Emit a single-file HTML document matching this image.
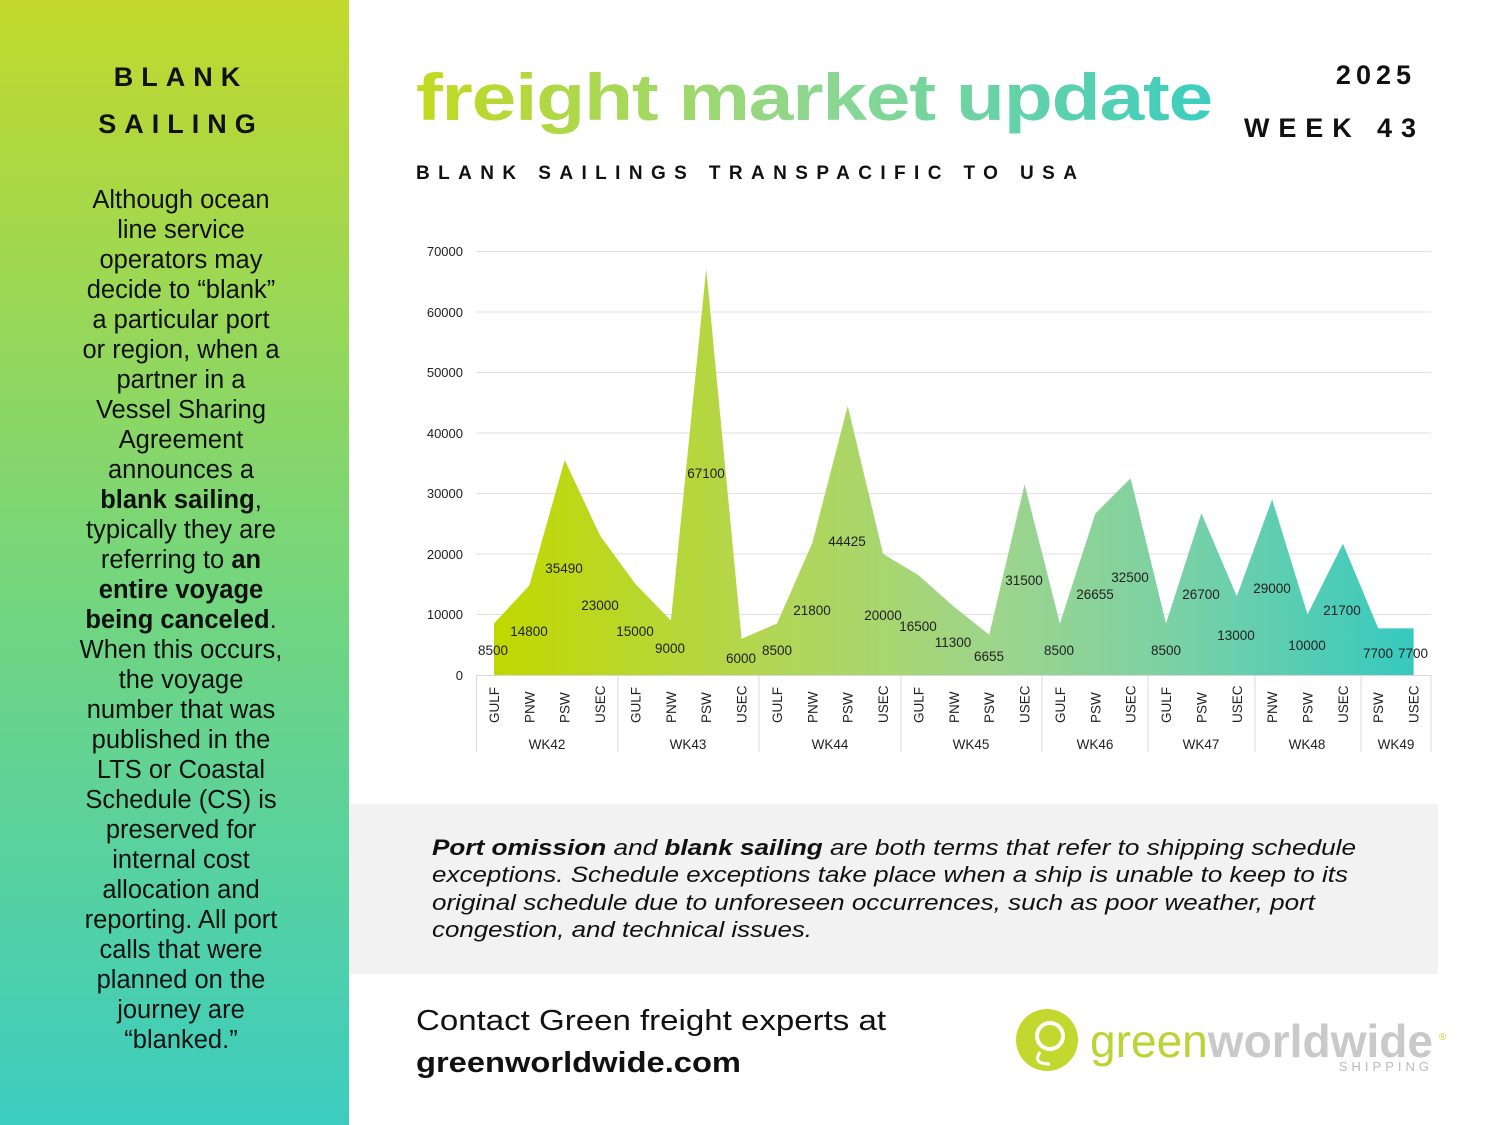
<!DOCTYPE html>
<html><head><meta charset="utf-8"><style>
html,body{margin:0;padding:0;background:#fff}
svg{display:block}
text{font-family:"Liberation Sans",sans-serif}
</style></head><body>
<svg width="1500" height="1125" viewBox="0 0 1500 1125" xmlns="http://www.w3.org/2000/svg">
<defs>
<linearGradient id="side" x1="0" y1="0" x2="0" y2="1">
<stop offset="0" stop-color="#c2d92b"/><stop offset="0.5" stop-color="#77d67a"/><stop offset="1" stop-color="#3ccdc0"/>
</linearGradient>
<linearGradient id="ttl" x1="416" y1="0" x2="1212" y2="0" gradientUnits="userSpaceOnUse">
<stop offset="0" stop-color="#c2d91e"/><stop offset="0.5" stop-color="#8ed790"/><stop offset="1" stop-color="#3ccdc0"/>
</linearGradient>
<linearGradient id="area" x1="494" y1="0" x2="1414" y2="0" gradientUnits="userSpaceOnUse">
<stop offset="0" stop-color="#c0d800"/><stop offset="0.3" stop-color="#b2d654"/><stop offset="0.55" stop-color="#9dd58c"/><stop offset="0.75" stop-color="#78d1a6"/><stop offset="1" stop-color="#36c9c0"/>
</linearGradient>
</defs>
<rect x="0" y="0" width="349" height="1125" fill="url(#side)"/>
<text x="181" y="86" text-anchor="middle" font-size="27" font-weight="bold" letter-spacing="8" fill="#111">BLANK</text>
<text x="181" y="133" text-anchor="middle" font-size="27" font-weight="bold" letter-spacing="8" fill="#111">SAILING</text>
<g font-size="25.5" fill="#111" text-anchor="middle">
<text x="181" y="208">Although ocean</text>
<text x="181" y="238">line service</text>
<text x="181" y="268">operators may</text>
<text x="181" y="298">decide to “blank”</text>
<text x="181" y="328">a particular port</text>
<text x="181" y="358">or region, when a</text>
<text x="181" y="388">partner in a</text>
<text x="181" y="418">Vessel Sharing</text>
<text x="181" y="448">Agreement</text>
<text x="181" y="478">announces a</text>
<text x="181" y="508"><tspan font-weight="bold">blank sailing</tspan>,</text>
<text x="181" y="538">typically they are</text>
<text x="181" y="568">referring to <tspan font-weight="bold">an</tspan></text>
<text x="181" y="598" font-weight="bold">entire voyage</text>
<text x="181" y="628"><tspan font-weight="bold">being canceled</tspan>.</text>
<text x="181" y="658">When this occurs,</text>
<text x="181" y="688">the voyage</text>
<text x="181" y="718">number that was</text>
<text x="181" y="748">published in the</text>
<text x="181" y="778">LTS or Coastal</text>
<text x="181" y="808">Schedule (CS) is</text>
<text x="181" y="838">preserved for</text>
<text x="181" y="868">internal cost</text>
<text x="181" y="898">allocation and</text>
<text x="181" y="928">reporting. All port</text>
<text x="181" y="958">calls that were</text>
<text x="181" y="988">planned on the</text>
<text x="181" y="1018">journey are</text>
<text x="181" y="1048">“blanked.”</text>
</g>
<text x="416" y="120" font-size="66" font-weight="bold" fill="url(#ttl)" textLength="796" lengthAdjust="spacingAndGlyphs" letter-spacing="-1">freight market update</text>
<text x="1416" y="84" text-anchor="end" font-size="27" font-weight="bold" letter-spacing="5" fill="#111">2025</text>
<text x="1244" y="137" font-size="27" font-weight="bold" fill="#111" textLength="172" lengthAdjust="spacing">WEEK 43</text>
<text x="416" y="179" font-size="19" font-weight="bold" fill="#111" textLength="661" lengthAdjust="spacing">BLANK SAILINGS   TRANSPACIFIC TO USA</text>
<g stroke="#e0e0e0" stroke-width="1">
<line x1="476" y1="251.5" x2="1431" y2="251.5"/><line x1="476" y1="312" x2="1431" y2="312"/><line x1="476" y1="372.5" x2="1431" y2="372.5"/><line x1="476" y1="433" x2="1431" y2="433"/><line x1="476" y1="493.5" x2="1431" y2="493.5"/><line x1="476" y1="554" x2="1431" y2="554"/><line x1="476" y1="614.5" x2="1431" y2="614.5"/>
</g>
<g font-size="13" fill="#222" text-anchor="end">
<text x="463" y="256">70000</text><text x="463" y="317">60000</text><text x="463" y="377">50000</text><text x="463" y="438">40000</text><text x="463" y="498">30000</text><text x="463" y="559">20000</text><text x="463" y="619">10000</text><text x="463" y="680">0</text>
</g>
<polygon fill="url(#area)" points="494,675 494,623.5 529.4,585.4 564.7,460 600.1,535.7 635.5,584.1 670.9,620.5 706.2,268.6 741.6,638.7 777,623.5 812.3,543 847.7,405.9 883.1,553.9 918.4,575.1 953.8,606.6 989.2,634.7 1024.6,484.2 1059.9,623.5 1095.3,513.6 1130.6,478.2 1166,623.5 1201.4,513.3 1236.8,596.3 1272.1,499.3 1307.5,614.4 1342.9,543.6 1378.2,628.4 1413.6,628.4 1413.6,675"/>
<g stroke="#d8d8d8" stroke-width="1">
<line x1="476" y1="675.5" x2="1431" y2="675.5"/>
<line x1="476.5" y1="675" x2="476.5" y2="752"/><line x1="618" y1="675" x2="618" y2="752"/><line x1="759" y1="675" x2="759" y2="752"/><line x1="901" y1="675" x2="901" y2="752"/><line x1="1042" y1="675" x2="1042" y2="752"/><line x1="1148" y1="675" x2="1148" y2="752"/><line x1="1255" y1="675" x2="1255" y2="752"/><line x1="1361" y1="675" x2="1361" y2="752"/><line x1="1431" y1="675" x2="1431" y2="752"/>
</g>
<g font-size="13.5" fill="#222" text-anchor="middle">
<text x="493" y="655">8500</text><text x="529" y="636">14800</text><text x="564" y="573">35490</text><text x="600" y="610">23000</text><text x="635" y="636">15000</text><text x="670" y="653">9000</text><text x="706" y="478">67100</text><text x="741" y="663">6000</text><text x="777" y="655">8500</text><text x="812" y="615">21800</text><text x="847" y="546">44425</text><text x="883" y="620">20000</text><text x="918" y="631">16500</text><text x="953" y="647">11300</text><text x="989" y="661">6655</text><text x="1024" y="585">31500</text><text x="1059" y="655">8500</text><text x="1095" y="599">26655</text><text x="1130" y="582">32500</text><text x="1166" y="655">8500</text><text x="1201" y="599">26700</text><text x="1236" y="640">13000</text><text x="1272" y="593">29000</text><text x="1307" y="650">10000</text><text x="1342" y="615">21700</text><text x="1378" y="658">7700</text><text x="1413" y="658">7700</text>
</g>
<g font-size="13.5" fill="#222">
<text transform="translate(499,723) rotate(-90)">GULF</text>
<text transform="translate(534.4,723) rotate(-90)">PNW</text>
<text transform="translate(569.7,723) rotate(-90)">PSW</text>
<text transform="translate(605.1,723) rotate(-90)">USEC</text>
<text transform="translate(640.5,723) rotate(-90)">GULF</text>
<text transform="translate(675.9,723) rotate(-90)">PNW</text>
<text transform="translate(711.2,723) rotate(-90)">PSW</text>
<text transform="translate(746.6,723) rotate(-90)">USEC</text>
<text transform="translate(782,723) rotate(-90)">GULF</text>
<text transform="translate(817.3,723) rotate(-90)">PNW</text>
<text transform="translate(852.7,723) rotate(-90)">PSW</text>
<text transform="translate(888.1,723) rotate(-90)">USEC</text>
<text transform="translate(923.4,723) rotate(-90)">GULF</text>
<text transform="translate(958.8,723) rotate(-90)">PNW</text>
<text transform="translate(994.2,723) rotate(-90)">PSW</text>
<text transform="translate(1029.6,723) rotate(-90)">USEC</text>
<text transform="translate(1064.9,723) rotate(-90)">GULF</text>
<text transform="translate(1100.3,723) rotate(-90)">PSW</text>
<text transform="translate(1135.6,723) rotate(-90)">USEC</text>
<text transform="translate(1171,723) rotate(-90)">GULF</text>
<text transform="translate(1206.4,723) rotate(-90)">PSW</text>
<text transform="translate(1241.8,723) rotate(-90)">USEC</text>
<text transform="translate(1277.1,723) rotate(-90)">PNW</text>
<text transform="translate(1312.5,723) rotate(-90)">PSW</text>
<text transform="translate(1347.9,723) rotate(-90)">USEC</text>
<text transform="translate(1383.2,723) rotate(-90)">PSW</text>
<text transform="translate(1418.6,723) rotate(-90)">USEC</text>
</g>
<g font-size="13.5" fill="#222" text-anchor="middle">
<text x="547" y="749">WK42</text><text x="688" y="749">WK43</text><text x="830" y="749">WK44</text><text x="971" y="749">WK45</text><text x="1095" y="749">WK46</text><text x="1201" y="749">WK47</text><text x="1307" y="749">WK48</text><text x="1396" y="749">WK49</text>
</g>
<rect x="349" y="804" width="1089" height="170" fill="#f2f2f2"/>
<g font-size="22" font-style="italic" fill="#111">
<text x="432" y="855" textLength="924" lengthAdjust="spacingAndGlyphs"><tspan font-weight="bold">Port omission</tspan> and <tspan font-weight="bold">blank sailing</tspan> are both terms that refer to shipping schedule</text>
<text x="432" y="882" textLength="916" lengthAdjust="spacingAndGlyphs">exceptions. Schedule exceptions take place when a ship is unable to keep to its</text>
<text x="432" y="910" textLength="883" lengthAdjust="spacingAndGlyphs">original schedule due to unforeseen occurrences, such as poor weather, port</text>
<text x="432" y="937" textLength="380" lengthAdjust="spacingAndGlyphs">congestion, and technical issues.</text>
</g>
<text x="416" y="1030" font-size="29" fill="#111" textLength="470" lengthAdjust="spacingAndGlyphs">Contact Green freight experts at</text>
<text x="416" y="1072" font-size="29" font-weight="bold" fill="#111" textLength="325" lengthAdjust="spacingAndGlyphs">greenworldwide.com</text>
<circle cx="1047" cy="1040" r="31" fill="#c2d82e"/>
<circle cx="1050" cy="1036" r="13" fill="none" stroke="#fff" stroke-width="4"/>
<path d="M1040 1052 q-8 12 10 12" fill="none" stroke="#fff" stroke-width="3"/>
<text x="1090" y="1057" font-size="46" fill="#b8d435" textLength="343" lengthAdjust="spacingAndGlyphs">green<tspan font-weight="bold" fill="#c9c9c9">worldwide</tspan></text>
<text x="1439" y="1040" font-size="10" fill="#c2d82e">®</text>
<text x="1433" y="1071" text-anchor="end" font-size="13" fill="#bbb" letter-spacing="4">SHIPPING</text>
</svg>
</body></html>
